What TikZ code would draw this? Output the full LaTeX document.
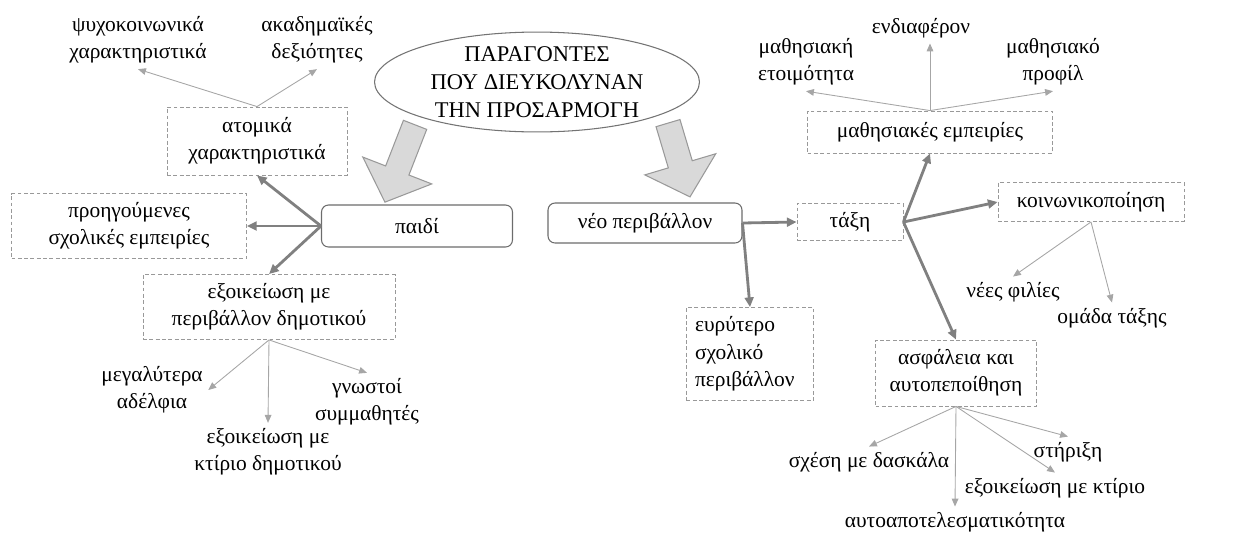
\documentclass[tikz,border=0pt]{standalone}
\usepackage{fontspec}
\setmainfont{Liberation Serif}
\usetikzlibrary{arrows.meta,shapes.geometric}

\begin{document}
\begin{tikzpicture}[x=0.02cm, y=-0.02cm,
            every node/.style={font=\rmfamily\fontsize{12.2}{15.6}\selectfont, align=center},
            lbl/.style={inner sep=3pt},
            dbox/.style={draw=gray!80, dash pattern=on 2.2pt off 1.4pt, line width=0.5pt, inner sep=2pt},
            rbox/.style={draw=gray!85!black, rounded corners=4pt, line width=0.6pt, inner sep=2pt},
            bigarr/.style={draw=gray!80, fill=gray!30, line width=0.6pt, line join=miter},
            heavy/.style={draw=gray, line width=1.6pt, -{Triangle[length=5.5pt,width=5pt]}},
            light/.style={draw=gray!70, line width=0.5pt, -{Triangle[length=4.5pt,width=3.8pt]}}
        ]
        \useasboundingbox (0,0) rectangle (1241,535);

        % big arrows under the title
        \begin{scope}[shift={(400,163.5)}, x=1cm, y=1cm, rotate=248.7]
            \draw [bigarr] (-0.83,-0.25) -- (0.15,-0.25) -- (0.15,-0.74) -- (0.83,0)
                -- (0.15,0.74) -- (0.15,0.25) -- (-0.83,0.25) -- cycle;
        \end{scope}
        \begin{scope}[shift={(679,160)}, x=1cm, y=1cm, rotate=286.6]
            \draw [bigarr] (-0.77,-0.25) -- (0.09,-0.25) -- (0.09,-0.74) -- (0.77,0)
                -- (0.09,0.74) -- (0.09,0.25) -- (-0.77,0.25) -- cycle;
        \end{scope}
        \node [ellipse, draw=gray!90!black, fill=white, line width=0.6pt, minimum width=6.5cm, minimum height=1.96cm, inner sep=0pt,
            font=\rmfamily\fontsize{12.8}{15.8}\selectfont]
            (title) at (537,82) {ΠΑΡΑΓΟΝΤΕΣ\\ΠΟΥ ΔΙΕΥΚΟΛΥΝΑΝ\\ΤΗΝ ΠΡΟΣΑΡΜΟΓΗ};

        % child side
        \node [rbox, minimum width=3.82cm, minimum height=0.84cm] (paidi) at (417,226) {παιδί};
        \node [dbox, minimum width=3.6cm, minimum height=1.36cm] (atom) at (257,141) {ατομικά\\χαρακτηριστικά};
        \node [dbox, minimum width=4.7cm, minimum height=1.3cm] (prohg) at (129,226) {προηγούμενες\\σχολικές εμπειρίες};
        \node [dbox, minimum width=5.04cm, minimum height=1.3cm] (exoik) at (269,307) {εξοικείωση με\\περιβάλλον δημοτικού};
        \node [lbl] (psy) at (138,40) {ψυχοκοινωνικά\\χαρακτηριστικά};
        \node [lbl] (acad) at (317,40) {ακαδημαϊκές\\δεξιότητες};
        \node [lbl] (megal) at (152,390) {μεγαλύτερα\\αδέλφια};
        \node [lbl] (gnost) at (367,402) {γνωστοί\\συμμαθητές};
        \node [lbl] (ktir) at (268,452) {εξοικείωση με\\κτίριο δημοτικού};

        \draw [heavy] (paidi.west) -- (atom.south);
        \draw [heavy] (paidi.west) -- (prohg.east);
        \draw [heavy] (paidi.west) -- (exoik.north);
        \draw [light] (atom.north) -- (psy.south);
        \draw [light] (atom.north) -- (acad.south);
        \draw [light] (exoik.south) -- (megal.east);
        \draw [light] (exoik.south) -- (ktir.north);
        \draw [light] (exoik.south) -- (gnost.north);

        % new environment side
        \node [rbox, minimum width=3.88cm, minimum height=0.8cm] (neo) at (645,223) {νέο περιβάλλον};
        \node [dbox, minimum width=2.12cm, minimum height=0.74cm] (taxi) at (850,222) {τάξη};
        \node [dbox, text width=2.2cm, inner xsep=0.17cm, minimum height=1.86cm, align=left] (wider) at (750,354)
            {ευρύτερο\\σχολικό\\περιβάλλον};
        \node [dbox, minimum width=4.9cm, minimum height=0.84cm] (mathexp) at (930,132) {μαθησιακές εμπειρίες};
        \node [dbox, minimum width=3.72cm, minimum height=0.78cm] (koin) at (1091,202) {κοινωνικοποίηση};
        \node [dbox, minimum width=3.22cm, minimum height=1.32cm] (asf) at (956,373) {ασφάλεια και\\αυτοπεποίθηση};
        \node [lbl] (etoim) at (806,62) {μαθησιακή\\ετοιμότητα};
        \node [lbl] (endiaf) at (921,28) {ενδιαφέρον};
        \node [lbl] (profil) at (1053,62) {μαθησιακό\\προφίλ};
        \node [lbl] (nees) at (1013,292) {νέες φιλίες};
        \node [lbl] (omada) at (1112,318) {ομάδα τάξης};
        \node [lbl] (sxesi) at (869,462) {σχέση με δασκάλα};
        \node [lbl] (stir) at (1068,452) {στήριξη};
        \node [lbl] (ktir2) at (1055,488) {εξοικείωση με κτίριο};
        \node [lbl] (auto) at (955,522) {αυτοαποτελεσματικότητα};

        \draw [heavy] (neo.east) -- (taxi.west);
        \draw [heavy] (neo.east) -- (wider.north);
        \draw [heavy] (taxi.east) -- (mathexp.south);
        \draw [heavy] (taxi.east) -- (koin.west);
        \draw [heavy] (taxi.east) -- (asf.north);
        \draw [light] (mathexp.north) -- (etoim.south);
        \draw [light] (mathexp.north) -- (mathexp.north |- endiaf.south);
        \draw [light] (mathexp.north) -- (profil.south);
        \draw [light] (koin.south) -- (nees.north);
        \draw [light] (koin.south) -- (omada.north);
        \draw [light] (asf.south) -- (sxesi.north);
        \draw [light] (asf.south) -- (auto.north);
        \draw [light] (asf.south) -- (ktir2.north);
        \draw [light] (asf.south) -- (stir.north);

\end{tikzpicture}
\end{document}
